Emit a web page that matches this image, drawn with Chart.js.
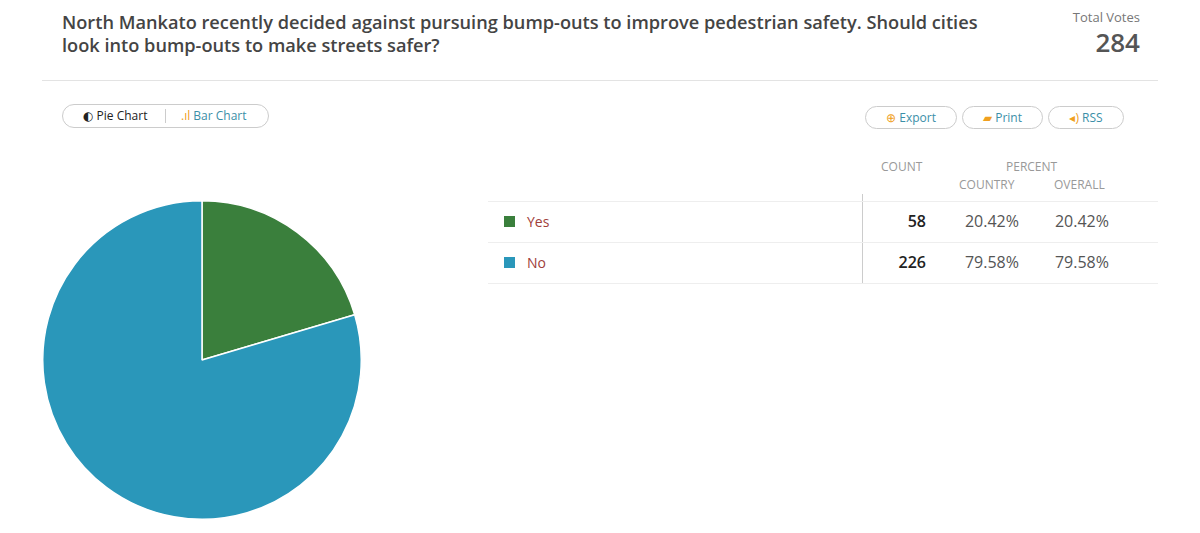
<!DOCTYPE html>
<html><head><meta charset="utf-8">
<script src="https://cdn.jsdelivr.net/npm/chart.js@4/dist/chart.umd.min.js"></script>
<style>
body{margin:0;width:1200px;height:533px;background:#fff;font-family:"Open Sans",sans-serif;position:relative;overflow:hidden}
.abs{position:absolute}
#title{left:62px;top:11px;width:950px;font-size:18.2px;font-weight:600;color:#444;line-height:23px}
#tv{right:60px;top:8px;text-align:right;color:#777;font-size:13px;line-height:18px}
#tv b{display:block;font-size:26px;font-weight:600;color:#555;line-height:32px;margin-top:0}
#hr{left:42px;top:80px;width:1116px;border-top:1px solid #e3e3e3}
.pill{border:1px solid #ccc;border-radius:13px;height:22px;font-size:12px;line-height:22px;box-sizing:border-box}
#tog{left:62px;top:104px;width:207px;height:24px}
.btn{top:106px;height:23px;color:#3b8fa8;text-align:center}
#pie{left:41px;top:199px;width:322px;height:322px}
.th{color:#999;font-size:12px}
.row{left:488px;width:670px;height:41px;border-top:1px solid #eee}
.cell{font-size:16px;color:#555}
</style></head><body>
<div id="title" class="abs">North Mankato recently decided against pursuing bump-outs to improve pedestrian safety. Should cities look into bump-outs to make streets safer?</div>
<div id="tv" class="abs">Total Votes<b id="total"></b></div>
<div id="hr" class="abs"></div>
<div id="tog" class="abs pill"><span class="abs" style="left:20px;top:0;color:#222"><span style="font-family:'DejaVu Sans'">◐</span> Pie Chart</span><span class="abs" style="left:102px;top:4px;height:14px;border-left:1px solid #ccc"></span><span class="abs" style="left:118px;top:0;color:#3b8fa8"><span style="color:#f0a020">.ıl</span> Bar Chart</span></div>
<div class="abs pill btn" style="left:865px;width:92px"><span style="color:#f0a020">⊕</span> Export</div>
<div class="abs pill btn" style="left:962px;width:81px"><span style="color:#f0a020">▰</span> Print</div>
<div class="abs pill btn" style="left:1048px;width:76px"><span style="color:#f0a020">◂)</span> RSS</div>
<div class="abs th" style="left:881px;top:158px">COUNT</div>
<div class="abs th" style="left:1006px;top:158px">PERCENT</div>
<div class="abs th" style="left:959px;top:176px">COUNTRY</div>
<div class="abs th" style="left:1054px;top:176px">OVERALL</div>
<div class="abs" style="left:862px;top:194px;height:90px;border-left:1px solid #ccc"></div>
<div id="rows"></div>
<div id="pie" class="abs"><canvas id="c"></canvas></div>
<script>
const categories=["Yes","No"];
const counts=[58,226];
const countryPct=["20.42%","79.58%"];
const overallPct=["20.42%","79.58%"];
const colors=["#3a7f3c","#2a97ba"];
document.getElementById('total').textContent=counts.reduce((a,b)=>a+b,0);
let h='';
categories.forEach((c,i)=>{const t=201+i*41;
h+=`<div class="abs row" style="top:${t}px"></div>
<div class="abs" style="left:504px;top:${t+15}px;width:11px;height:11px;background:${colors[i]}"></div>
<div class="abs cell" style="left:527px;top:${t+11}px;color:#a0403a;font-size:14px">${c}</div>
<div class="abs cell" style="left:860px;width:66px;text-align:right;top:${t+9}px;color:#222;font-weight:600">${counts[i]}</div>
<div class="abs cell" style="left:940px;width:79px;text-align:right;top:${t+9}px">${countryPct[i]}</div>
<div class="abs cell" style="left:1030px;width:79px;text-align:right;top:${t+9}px">${overallPct[i]}</div>`;});
h+=`<div class="abs row" style="top:283px;height:0"></div>`;
document.getElementById('rows').innerHTML=h;
new Chart(document.getElementById('c'),{type:'pie',data:{labels:categories,datasets:[{data:counts,backgroundColor:colors,borderColor:'#fff',borderWidth:1.5}]},
options:{responsive:true,maintainAspectRatio:false,animation:false,plugins:{legend:{display:false},tooltip:{enabled:false}},layout:{padding:1}}});
</script>
</body></html>
